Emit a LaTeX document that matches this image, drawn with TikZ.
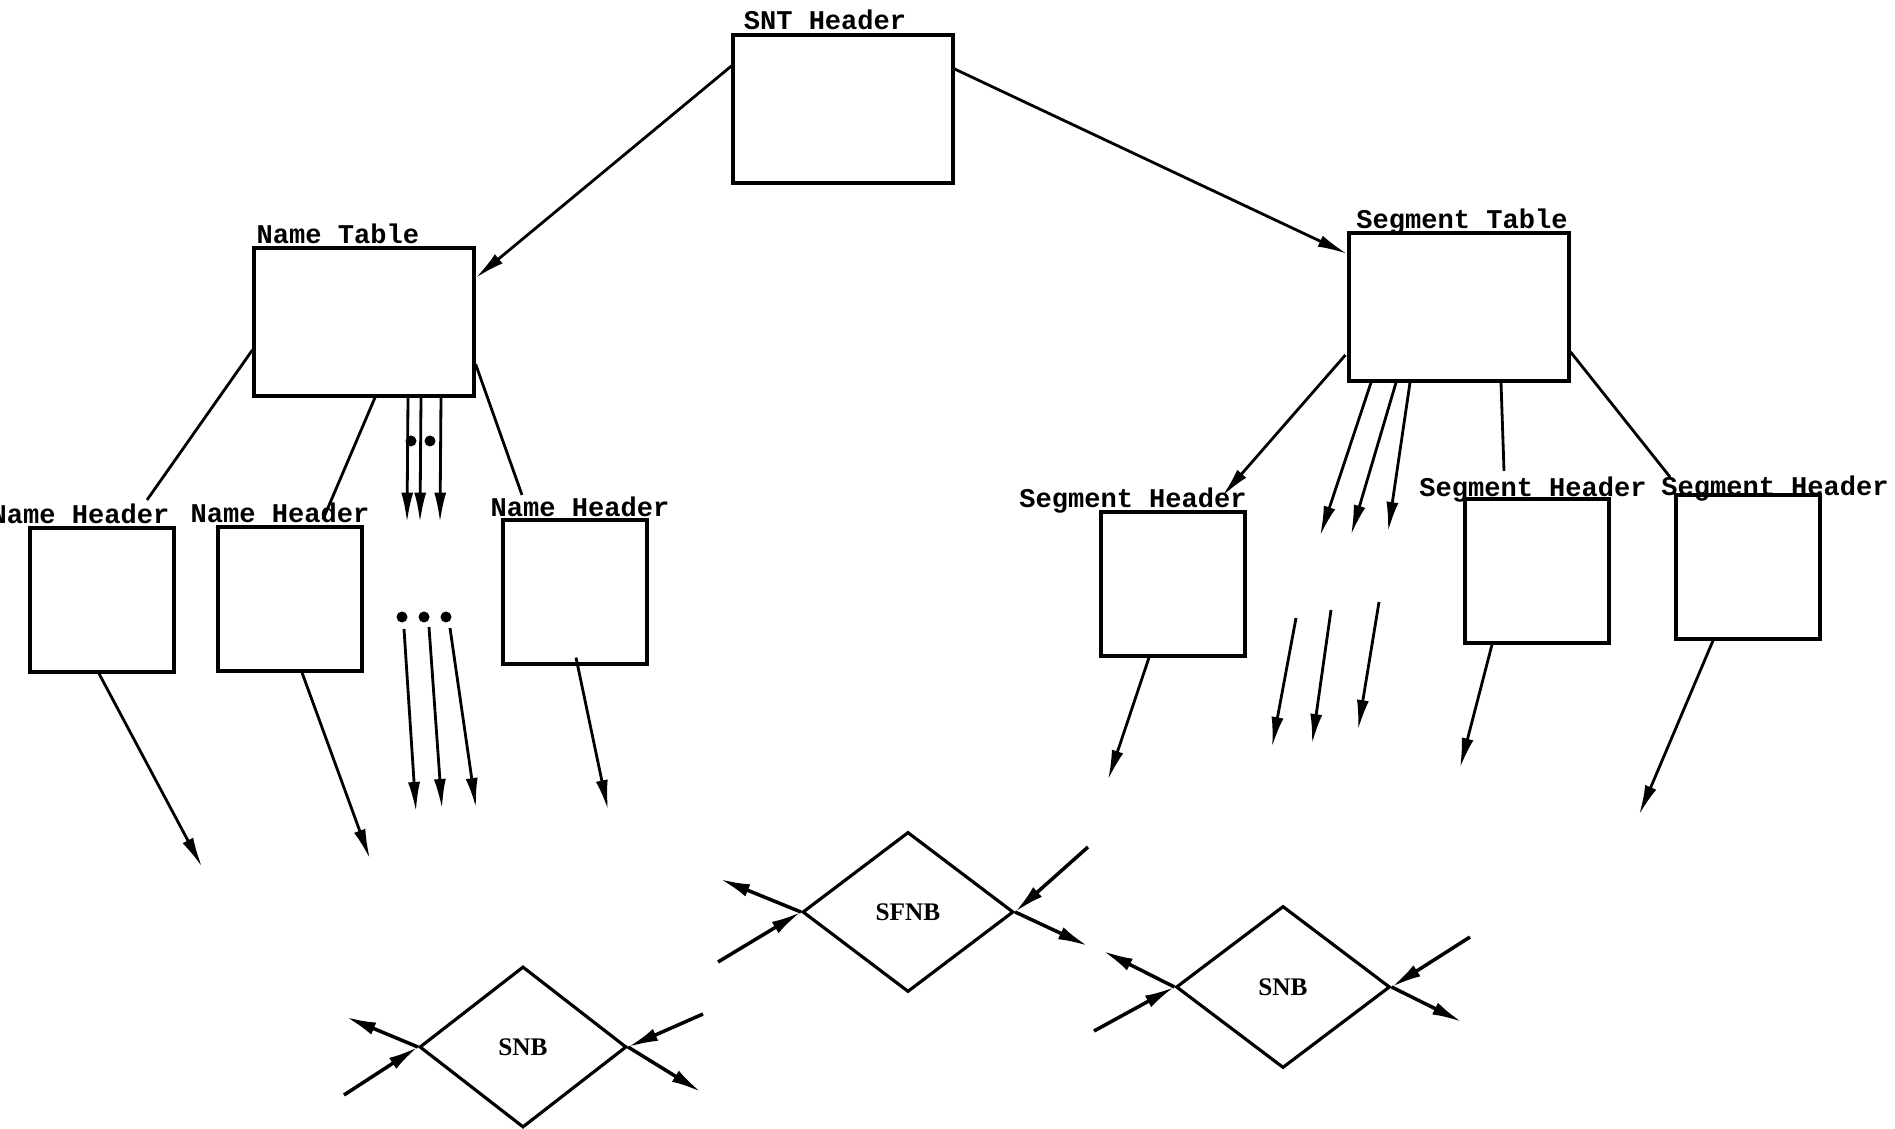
\documentclass[tikz,border=0pt]{standalone}
\usepackage{fontspec}
\newfontfamily\typer{Liberation Mono}
\newfontfamily\blkfont{Liberation Serif}
\usetikzlibrary{positioning,calc,arrows.meta,shapes.geometric}
\tikzset{
  tablebox/.style={draw,line width=0.9pt,minimum width=22mm,minimum height=14.8mm,inner sep=0pt},
  hdrbox/.style={draw,line width=0.9pt,minimum width=14.4mm,minimum height=14.4mm,inner sep=0pt},
  lbl/.style={font=\typer\bfseries\fontsize{7.7}{9}\selectfont,anchor=base,inner sep=0pt},
  blk/.style={draw,diamond,line width=0.9pt,inner sep=0pt,font=\blkfont\bfseries\fontsize{7.2}{8}\selectfont},
  ptr/.style={line width=0.8pt,-{Latex[length=3mm,width=1.2mm]}},
  bptr/.style={line width=1pt,-{Latex[length=3mm,width=1.3mm]}},
  lnk/.style={line width=0.8pt},
  dotmark/.style={circle,fill,inner sep=0pt,minimum size=1.1mm}
}
\begin{document}
\begin{tikzpicture}[x=0.1mm,y=-0.1mm]
  \useasboundingbox (0,0) rectangle (1895,1129);
  \clip (0,0) rectangle (1895,1129);
  % tables
  \node[tablebox] (snt) at (843,109) {};
  \node[tablebox] (nt) at (364,322) {};
  \node[tablebox] (st) at (1459,307) {};
  \node[lbl] (sntl) at (825,30) {SNT Header};
  \node[lbl,anchor=base west] (ntl) at (256,244) {Name Table};
  \node[lbl] (stl) at (1462,229) {Segment Table};
  % headers
  \node[hdrbox] (nh1) at (102,600) {};
  \node[hdrbox] (nh2) at (290,599) {};
  \node[hdrbox] (nh3) at (575,592) {};
  \node[lbl] (nh1l) at (80,524) {Name Header};
  \node[lbl] (nh2l) at (280,523) {Name Header};
  \node[lbl] (nh3l) at (580,517) {Name Header};
  \node[hdrbox] (sh1) at (1173,584) {};
  \node[hdrbox] (sh2) at (1537,571) {};
  \node[hdrbox] (sh3) at (1748,567) {};
  \node[lbl] (sh1l) at (1133,508) {Segment Header};
  \node[lbl] (sh2l) at (1533,497) {Segment Header};
  \node[lbl] (sh3l) at (1775,496) {Segment Header};
  % blocks
  \node[blk,minimum width=20.7mm,minimum height=16.1mm] (snba) at (523,1047) {SNB};
  \node[blk,minimum width=21.1mm,minimum height=16mm] (sfnb) at (908,912) {SFNB};
  \node[blk,minimum width=21.4mm,minimum height=16.2mm] (snbb) at (1283,987) {SNB};

  % from the SNT header
  \draw[ptr] ($(snt.west)+(0,-43)$) -- ($(nt.east)+(0,-44)$);
  \draw[ptr] ($(snt.east)+(0,-40)$) -- ($(st.west)+(0,-53)$);

  % name table side
  \coordinate (nh1in) at (147,500);
  \coordinate (nh3in) at (522,495);
  \draw[lnk] ($(nt.west)+(0,28)$) -- (nh1in);
  \draw[lnk] ($(nt.south)+(11,0)$) -- ($(nh2.north)+(33,-6)$);
  \draw[lnk] ($(nt.east)+(0,42)$) -- (nh3in);
  \foreach \dx in {44,57,77}
    \draw[ptr] ($(nt.south)+(\dx,0)$) -- ++(-1,125);
  \node[dotmark] (da) at (411,441) {};
  \node[dotmark] (db) at (430,441) {};
  \foreach \x/\n in {402/1,424/2,446/3}
    \node[dotmark] (dr\n) at (\x,617) {};
  \draw[ptr] (404,629) -- (416,812);
  \draw[ptr] (429,627) -- (442,809);
  \draw[ptr] (450,628) -- (476,808);
  \draw[ptr] ($(nh1.south)+(-3,0)$) -- (202,867);
  \draw[ptr] ($(nh2.south)+(12,0)$) -- (370,859);
  \draw[ptr] ($(nh3.south)+(1,-8)$) -- (608,810);

  % segment table side
  \coordinate (sh2in) at (1504,471);
  \coordinate (sh3in) at (1670,477);
  \draw[ptr] ($(st.west)+(-2,48)$) -- ($(sh1.north)+(49,-14)$);
  \draw[ptr] ($(st.south)+(-88,0)$) -- (1320,536);
  \draw[ptr] ($(st.south)+(-63,0)$) -- (1351,535);
  \draw[ptr] ($(st.south)+(-49,0)$) -- (1388,532);
  \draw[lnk] ($(st.south)+(42,0)$) -- (sh2in);
  \draw[lnk] ($(st.east)+(0,45)$) -- (sh3in);
  \draw[ptr] (1296,618) -- (1272,747);
  \draw[ptr] (1331,610) -- (1312,744);
  \draw[ptr] (1379,602) -- (1358,730);
  \draw[ptr] ($(sh1.south)+(-24,0)$) -- (1108,780);
  \draw[ptr] ($(sh2.south)+(-45,0)$) -- (1460,768);
  \draw[ptr] ($(sh3.south)+(-35,0)$) -- (1639,815);

  % block links
  \draw[bptr] (snba.west) -- (346,1017);
  \draw[bptr] (344,1095) -- (snba.west);
  \draw[bptr] (703,1014) -- (snba.east);
  \draw[bptr] (snba.east) -- (701,1092);
  \draw[bptr] (sfnb.west) -- (720,879);
  \draw[bptr] (718,962) -- (sfnb.west);
  \draw[bptr] (1088,847) -- (sfnb.east);
  \draw[bptr] (sfnb.east) -- (1088,946);
  \draw[bptr] (snbb.west) -- (1103,951);
  \draw[bptr] (1094,1031) -- (snbb.west);
  \draw[bptr] (1470,937) -- (snbb.east);
  \draw[bptr] (snbb.east) -- (1462,1022);
\end{tikzpicture}
\end{document}
